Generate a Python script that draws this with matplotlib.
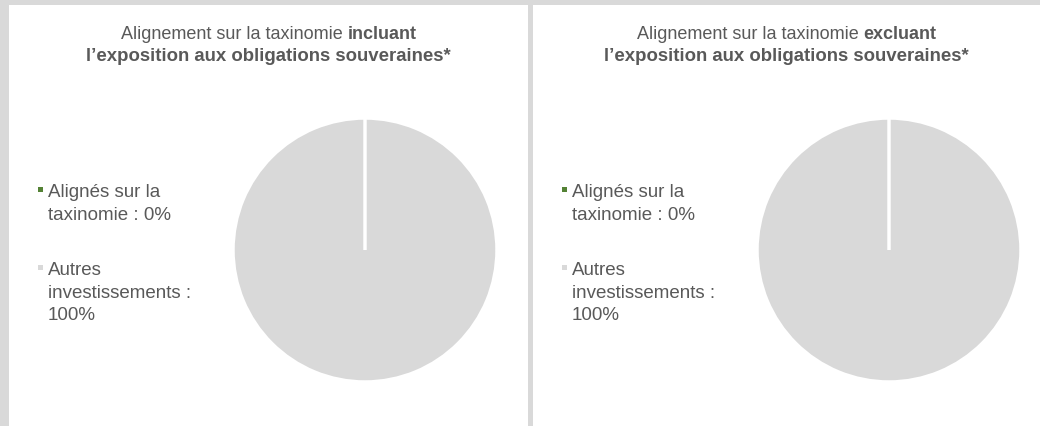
import textwrap
import matplotlib.pyplot as plt
from matplotlib.patches import Rectangle

plt.rcParams['font.family'] = ['Liberation Sans', 'DejaVu Sans']

# data
categories = ["Alignés sur la taxinomie", "Autres investissements"]
incl_values = [0, 100]
excl_values = [0, 100]
colors = ["#548235", "#d9d9d9"]
titles_regular = ["Alignement sur la taxinomie ", "Alignement sur la taxinomie "]
titles_bold = ["incluant", "excluant"]
title_line2 = "l’exposition aux obligations souveraines*"

W, H = 1040, 426
TXT = "#595959"
FS = 13
FS_LEG = 13.5

fig = plt.figure(figsize=(W / 100, H / 100), dpi=100, facecolor="#d9d9d9")
renderer = fig.canvas.get_renderer()


def px(x, y):
    # pixel coords (from top-left) -> figure fraction
    return x / W, 1 - y / H


# white panels
panels = [(9, 528), (533, 1040)]
for x0, x1 in panels:
    fig.patches.append(Rectangle((x0 / W, 0), (x1 - x0) / W, 1 - 5 / H,
                                 transform=fig.transFigure, facecolor="white",
                                 edgecolor="none", zorder=-5))


def draw_panel(x0, x1, values, reg, bold):
    cx = (x0 + x1) / 2
    # title line 1, mixed weight
    t1 = fig.text(0, 0, reg, fontsize=FS, color=TXT)
    t2 = fig.text(0, 0, bold, fontsize=FS, color=TXT, fontweight="bold")
    w1 = t1.get_window_extent(renderer).width
    w2 = t2.get_window_extent(renderer).width
    left = cx - (w1 + w2) / 2
    xa, ya = px(left, 39)
    t1.set_position((xa, ya))
    xb, _ = px(left + w1, 39)
    t2.set_position((xb, ya))
    xt, yt = px(cx, 61)
    fig.text(xt, yt, title_line2, fontsize=FS + 0.4, color=TXT,
             fontweight="bold", ha="center")

    # legend
    y = 197
    for cat, val, col in zip(categories, values, colors):
        lines = textwrap.wrap(f"{cat} : {val}%", width=17)
        mx, my = px(x0 + 29, y - 5)
        fig.patches.append(Rectangle((mx, my), 5 / W, 5 / H,
                                     transform=fig.transFigure, facecolor=col,
                                     edgecolor="none"))
        for i, line in enumerate(lines):
            lx, ly = px(x0 + 39, y + i * 22.5)
            fig.text(lx, ly, line, fontsize=FS_LEG, color=TXT)
        y += 78

    # pie
    pcx = x0 + 356
    r = 132
    ax = fig.add_axes([(pcx - r) / W, (H - 250 - r) / H, 2 * r / W, 2 * r / H])
    wedges, _ = ax.pie(values, colors=colors, startangle=90, counterclock=False,
                       wedgeprops=dict(edgecolor="white", linewidth=2.5))
    # empty slices show only as a white separator line on top
    for w, v in zip(wedges, values):
        if v == 0:
            w.set_zorder(3)
    ax.set_xlim(-1, 1)
    ax.set_ylim(-1, 1)
    ax.axis("off")


draw_panel(9, 528, incl_values, titles_regular[0], titles_bold[0])
draw_panel(533, 1040, excl_values, titles_regular[1], titles_bold[1])

fig.savefig("out.png", dpi=100, facecolor=fig.get_facecolor())
